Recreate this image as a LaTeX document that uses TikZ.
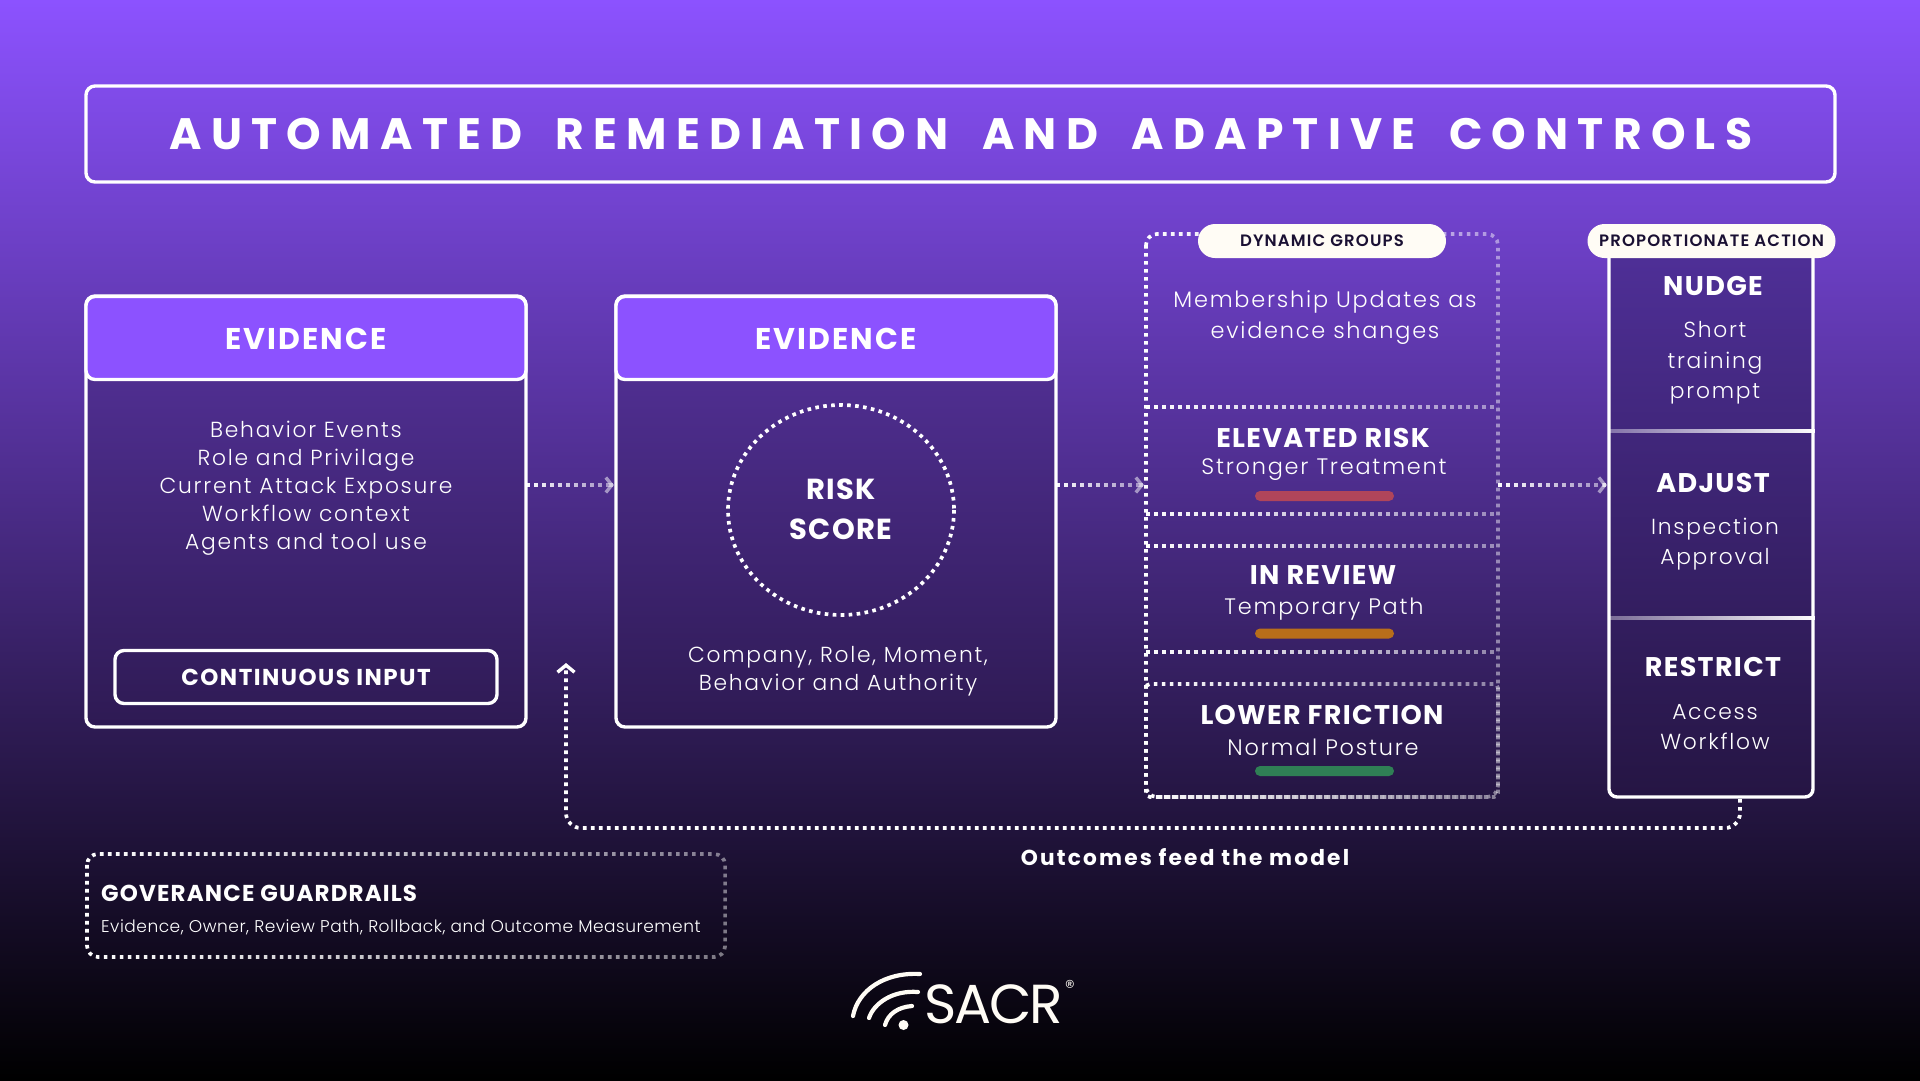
\documentclass[tikz,border=0pt]{standalone}
\usepackage{fontspec}
\usetikzlibrary{arrows.meta,fadings,calc}
\newfontfamily\fLs{Poppins Light}[LetterSpace=8]
\newfontfamily\fLt{Poppins Light}[LetterSpace=3]
\newfontfamily\fBs{Poppins Bold}[LetterSpace=5]
\newfontfamily\fBe{Poppins Bold}[LetterSpace=7]
\newfontfamily\fBc{Poppins Bold}[LetterSpace=6.5]
\newfontfamily\fBn{Poppins SemiBold}[LetterSpace=7]
\newfontfamily\fBw{Poppins Bold}[LetterSpace=10]
\newfontfamily\fBt{Poppins Bold}[LetterSpace=21,WordSpace=1.8]
\newfontfamily\fLogo{Poppins}[LetterSpace=-4]
\definecolor{bgtop}{HTML}{8C52FF}
\definecolor{pillc}{HTML}{FFFCF5}
\definecolor{inkc}{HTML}{1A1033}
\definecolor{cardtop}{RGB}{87,51,159}
\definecolor{cardbot}{RGB}{46,26,83}
\definecolor{acttop}{RGB}{80,48,154}
\definecolor{actbot}{RGB}{37,21,67}
\tikzfading[name=fadeR,left color=transparent!0,right color=transparent!55]
\tikzfading[name=fadeL,left color=transparent!65,right color=transparent!0]
\tikzset{
  solidbox/.style={draw=white,line width=3.4pt,rounded corners=9pt,inner sep=0pt,outer sep=0pt},
  cardbody/.style={solidbox,top color=cardtop,bottom color=cardbot},
  headbox/.style={solidbox,fill=bgtop},
  dotline/.style={draw=white,line width=3.7pt,dash pattern=on 3.6pt off 4.4pt},
  fadedot/.style={dotline,path fading=fadeR,fit fading=true},
  fliptip/.style={draw=white,draw opacity=0.5,line width=3.4pt,-{Straight Barb[length=6pt,width=15pt,line width=3.4pt]}},
  pill/.style={fill=pillc,rounded corners=17pt,inner sep=0pt,outer sep=0pt,minimum height=34pt,minimum width=248pt,text=inkc,font=\fBn\fontsize{16.5}{20}\selectfont},
  headt/.style={text=white,font=\fBs\fontsize{27}{32}\selectfont,inner sep=0pt},
  evit/.style={text=white,font=\fBe\fontsize{30}{34}\selectfont,inner sep=0pt},
  subt/.style={text=white,font=\fLs\fontsize{21.8}{28}\selectfont,align=center,inner sep=0pt},
  subg/.style={subt,font=\fLs\fontsize{22.4}{30.5}\selectfont},
  statebar/.style={rounded corners=5pt,minimum width=139pt,minimum height=10pt,inner sep=0pt},
  logoarc/.style={draw=pillc,line width=4.2pt,line cap=round},
}
\begin{document}
\begin{tikzpicture}[x=1pt,y=-1pt]
\useasboundingbox (0,0) rectangle (1920,1080);
\shade[top color=bgtop,bottom color=black] (0,0) rectangle (1920,1080);

% title
\node[solidbox,minimum width=1749pt,minimum height=96pt] (titlebox) at (960.5,134) {};
\node[text=white,font=\fBt\fontsize{44}{48}\selectfont,inner sep=0pt] (title) at (961,134) {AUTOMATED REMEDIATION AND ADAPTIVE CONTROLS};

% card 1
\node[cardbody,minimum width=440pt,minimum height=431pt] (card1) at (306,511.5) {};
\node[headbox,minimum width=440pt,minimum height=83pt] (head1) at (306,338) {};
\node[evit] (head1t) at (306,339) {EVIDENCE};
\node[subt] (card1t) at (306,488) {Behavior Events\\Role and Privilage\\Current Attack Exposure\\Workflow context\\Agents and tool use};
\node[solidbox,minimum width=382pt,minimum height=53pt] (inputbox) at (306,677) {};
\node[text=white,font=\fBc\fontsize{23}{26}\selectfont,inner sep=0pt] (inputt) at (306,677.5) {CONTINUOUS INPUT};

% card 2
\node[cardbody,minimum width=440pt,minimum height=431pt] (card2) at (836,511.5) {};
\node[headbox,minimum width=440pt,minimum height=83pt] (head2) at (836,338) {};
\node[evit] (head2t) at (836,339) {EVIDENCE};
\draw[dotline] (841,510) ellipse (113 and 105);
\node[text=white,font=\fBs\fontsize{29}{40}\selectfont,align=center,inner sep=0pt] (risk) at (841,509) {RISK\\SCORE};
\node[subt] (card2t) at (838,671) {Company, Role, Moment,\\Behavior and Authority};

% dynamic groups
\draw[fadedot,rounded corners=11pt] (1146,234) rectangle (1498,797);
\draw[fadedot,dash phase=3pt,rounded corners=4pt] (1146,684) rectangle (1498,797);
\draw[fadedot] (1146,407) -- (1498,407);
\draw[fadedot] (1146,514) -- (1498,514);
\draw[fadedot] (1146,546) -- (1498,546);
\draw[fadedot] (1146,652) -- (1498,652);
\node[pill] (pillg) at (1322,241) {DYNAMIC GROUPS};
\node[subg] (memb) at (1325,317.5) {Membership Updates as\\evidence shanges};
\node[headt] (elev) at (1323,438) {ELEVATED RISK};
\node[subg] (elevs) at (1324,469.5) {Stronger Treatment};
\node[statebar,fill={rgb,255:red,176;green,69;blue,90}] (bar1) at (1324.5,496) {};
\node[headt] (rev) at (1323,575) {IN REVIEW};
\node[subg] (revs) at (1324,609.5) {Temporary Path};
\node[statebar,fill={rgb,255:red,184;green,110;blue,26}] (bar2) at (1324.5,633.5) {};
\node[headt] (low) at (1322,715) {LOWER FRICTION};
\node[subg] (lows) at (1323,747) {Normal Posture};
\node[statebar,fill={rgb,255:red,47;green,127;blue,85}] (bar3) at (1324.5,771) {};

% proportionate action
\node[solidbox,top color=acttop,bottom color=actbot,rounded corners=8pt,minimum width=204pt,minimum height=562pt] (act) at (1711,516) {};
\draw[draw=white,line width=3.4pt,path fading=fadeL,fit fading=true] (1609,431) -- (1815,431);
\draw[draw=white,line width=3.4pt,path fading=fadeL,fit fading=true] (1609,618) -- (1815,618);
\node[pill] (pilla) at (1711.5,241) {PROPORTIONATE ACTION};
\node[headt] (nudge) at (1713,286) {NUDGE};
\node[subt,font=\fLs\fontsize{21.8}{30.5}\selectfont] (nudges) at (1715,363) {Short\\training\\prompt};
\node[headt] (adj) at (1713,483) {ADJUST};
\node[subt,font=\fLs\fontsize{21.8}{30}\selectfont] (adjs) at (1715,544.5) {Inspection\\Approval};
\node[headt] (res) at (1713,667) {RESTRICT};
\node[subt,font=\fLs\fontsize{21.8}{30}\selectfont] (ress) at (1715,727) {Access\\Workflow};

% connectors
\coordinate (rowy) at (0,485);
\coordinate (grps) at (1146,485);
\coordinate (grpe) at (1498,485);
\coordinate (tipa) at ([xshift=-2pt]card2.west |- rowy);
\coordinate (tipb) at ([xshift=-2pt]grps);
\coordinate (tipc) at ([xshift=-2pt]act.west |- rowy);
\draw[fadedot] (card1.east |- rowy) -- (tipa);
\draw[fliptip] ([xshift=-1pt]tipa) -- (tipa);
\draw[fadedot] (card2.east |- rowy) -- (tipb);
\draw[fliptip] ([xshift=-1pt]tipb) -- (tipb);
\draw[fadedot] (grpe) -- (tipc);
\draw[fliptip] ([xshift=-1pt]tipc) -- (tipc);
\coordinate (fbs) at (1740,799);
\coordinate (fbe) at (566,663);
\draw[dotline,rounded corners=15pt,-{Straight Barb[length=7pt,width=17pt,line width=3.4pt]}] (fbs) -- (1740,828) -- (566,828) -- (fbe);
\node[text=white,font=\fBw\fontsize{21.7}{25}\selectfont,inner sep=0pt] (fbt) at (1185,857) {Outcomes feed the model};

% guardrails
\draw[fadedot,rounded corners=11pt] (87,854) rectangle (725,957);
\node[text=white,font=\fBs\fontsize{23}{26}\selectfont,inner sep=0pt,anchor=west] (gov) at (101,893) {GOVERANCE GUARDRAILS};
\node[text=white,font=\fLt\fontsize{17}{20}\selectfont,inner sep=0pt,anchor=west] (govs) at (101,927) {Evidence, Owner, Review Path, Rollback, and Outcome Measurement};

% logo
\draw[logoarc] (853,1016) .. controls (858,990) and (885,972) .. (920,974);
\draw[logoarc] (869,1018) .. controls (874,1003) and (893,990) .. (918,992);
\draw[logoarc] (885,1025) .. controls (888,1014) and (898,1007) .. (912,1006);
\fill[pillc] (903.5,1025) circle (5);
\node[text=pillc,font=\fLogo\fontsize{55}{60}\selectfont,inner sep=0pt] (sacr) at (994,1004) {SACR};
\node[text=pillc,font=\fLt\fontsize{20}{22}\selectfont,inner sep=0pt] (reg) at (1070,987) {®};
\end{tikzpicture}
\end{document}
